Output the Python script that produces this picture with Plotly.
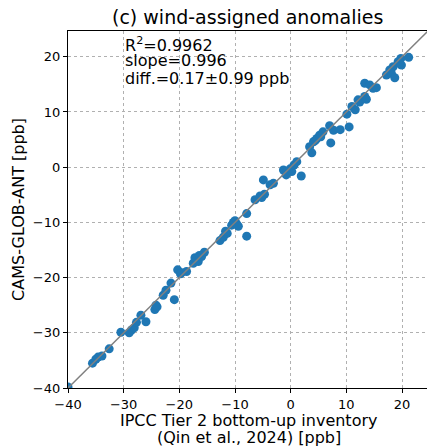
import plotly.graph_objects as go

# Wind-assigned anomalies: bottom-up inventory (x) vs CAMS-GLOB-ANT (y), ppb
ipcc_ppb = [
    -40.0, -35.6, -35.0, -34.6, -33.9, -32.6, -30.5, -29.0, -28.6, -28.1,
    -27.7, -26.9, -26.0, -24.4, -24.0, -24.2, -22.9, -22.4, -21.5, -20.9,
    -20.3, -19.8, -19.6, -18.7, -17.5, -17.2, -16.6, -16.4, -16.0, -15.5,
    -12.7, -12.1, -11.4, -11.7, -10.6, -10.3, -10.0, -9.7, -9.4, -7.9,
    -7.9, -6.4, -5.5, -5.2, -4.7, -4.9, -3.7, -3.1, -1.3, -0.7,
    -0.8, -0.1, 0.2, 0.6, 1.1, 1.9, 3.4, 3.8, 4.1, 4.4,
    4.7, 5.2, 5.8, 5.4, 7.2, 7.0, 7.7, 8.9, 10.5, 10.1,
    11.0, 11.6, 12.1, 12.4, 13.3, 13.6, 13.3, 14.2, 14.8, 15.4,
    17.2, 17.8, 18.4, 18.1, 18.7, 19.3, 19.8, 19.9, 21.2, 19.5,
]
cams_ppb = [
    -39.8, -35.5, -34.8, -34.4, -34.2, -32.9, -29.9, -30.0, -29.5, -29.1,
    -28.1, -26.8, -28.0, -25.8, -25.3, -25.0, -23.2, -22.3, -21.0, -24.0,
    -18.6, -19.3, -19.1, -18.9, -17.4, -16.4, -17.1, -16.0, -16.2, -15.4,
    -13.3, -12.7, -12.0, -11.6, -10.5, -10.0, -9.7, -10.3, -10.7, -12.5,
    -8.4, -5.9, -5.2, -5.5, -4.9, -2.3, -3.2, -2.9, -0.5, -0.8,
    -1.4, -0.3, -0.8, 0.4, 1.0, -1.6, 3.7, 2.6, 4.6, 4.8,
    5.2, 5.8, 6.4, 5.5, 4.4, 7.5, 6.7, 6.8, 7.3, 9.6,
    11.0, 10.4, 12.2, 11.8, 12.8, 12.3, 15.2, 14.9, 14.3, 14.4,
    16.7, 17.6, 18.2, 17.0, 16.2, 19.1, 19.7, 18.5, 19.9, 18.8,
]
one_to_one = [-40, 30]
tick_vals = [-40, -30, -20, -10, 0, 10, 20]
stats_lines = ["R<sup>2</sup>=0.9962", "slope=0.996", "diff.=0.17±0.99 ppb"]
xlabel_lines = ["IPCC Tier 2 bottom-up inventory", "(Qin et al., 2024) [ppb]"]

FONT = "DejaVu Sans"

fig = go.Figure()
fig.add_trace(go.Scatter(
    x=ipcc_ppb, y=cams_ppb, mode="markers",
    marker=dict(color="#1f77b4", size=9, line=dict(width=0)),
    showlegend=False, cliponaxis=True,
))
fig.add_trace(go.Scatter(
    x=one_to_one, y=one_to_one, mode="lines",
    line=dict(color="#808080", width=1.5),
    showlegend=False,
))

axis_common = dict(
    tickvals=tick_vals,
    ticks="outside", ticklen=4, tickwidth=1, tickcolor="black",
    showline=True, linecolor="black", linewidth=1.2,
    showgrid=True, gridcolor="#b0b0b0", griddash="dot", gridwidth=1,
    zeroline=False,
    tickfont=dict(family=FONT, size=13, color="black"),
)

fig.update_layout(
    width=427, height=448,
    margin=dict(l=68, r=0, t=31, b=60),
    plot_bgcolor="white", paper_bgcolor="white",
    font=dict(family=FONT, color="black"),
    xaxis=dict(range=[-40, 24.49], mirror=True, **axis_common),
    yaxis=dict(
        range=[-40, 24.67],
        title=dict(text="CAMS-GLOB-ANT [ppb]", font=dict(family=FONT, size=16), standoff=4),
        **axis_common,
    ),
)

fig.add_annotation(
    text="(c) wind-assigned anomalies", xref="paper", yref="paper",
    x=0.5, y=1, yshift=1, xanchor="center", yanchor="bottom",
    showarrow=False, font=dict(family=FONT, size=19, color="black"),
)

# two-line x-axis label, placed below the tick labels
for i, line in enumerate(xlabel_lines):
    fig.add_annotation(
        text=line, xref="paper", yref="paper", x=0.503, y=0,
        yshift=-32 - 17.5 * i, xanchor="center", yanchor="middle",
        showarrow=False, font=dict(family=FONT, size=16, color="black"),
    )

for i, line in enumerate(stats_lines):
    fig.add_annotation(
        text=line, xref="x", yref="y", x=-30.1, y=24.5,
        yshift=-17.5 * i, xanchor="left", yanchor="top",
        showarrow=False, font=dict(family=FONT, size=16, color="black"),
    )

fig.write_html("out.html")
